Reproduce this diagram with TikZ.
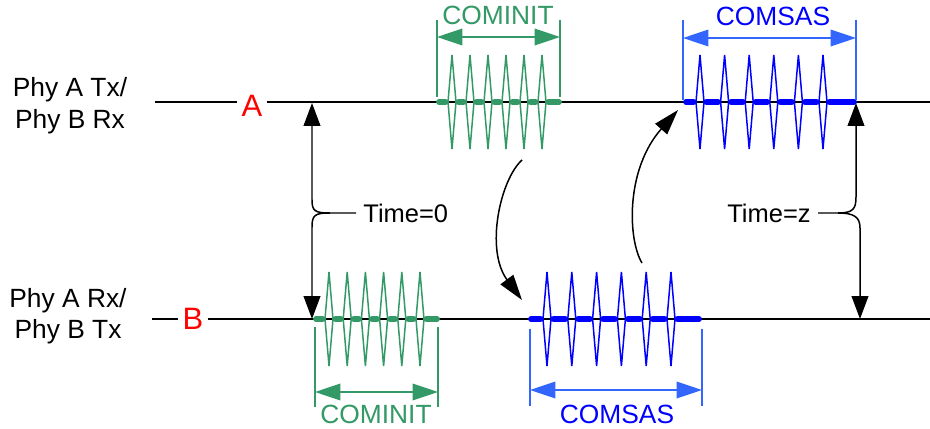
\documentclass[tikz,border=0pt]{standalone}
\usepackage{fontspec}
\setmainfont{Liberation Sans}
\usetikzlibrary{arrows.meta}
\definecolor{cominitgreen}{RGB}{51,153,102}
\definecolor{comsasblue}{RGB}{0,0,255}
\definecolor{comsaslight}{RGB}{51,102,255}
\tikzset{
	sig/.style={line width=0.8pt},
	spike/.style={line width=0.85pt},
	bar/.style={line width=3.3pt, line cap=round},
	dimtick/.style={line width=0.75pt},
	dimarrow/.style={line width=0.85pt, {Triangle[length=14.5pt,width=9.5pt]}-{Triangle[length=14.5pt,width=9.5pt]}},
	tarrow/.style={line width=0.85pt, -{Triangle[length=13pt,width=9.5pt]}},
	curvarrow/.style={line width=0.85pt, -{Triangle[length=14.5pt,width=9pt]}},
	phylabel/.style={align=center, font=\fontsize{15}{18}\selectfont},
	endlabel/.style={text=red, font=\fontsize{17.6}{20}\selectfont, inner sep=2.3pt},
	oobtext/.style={font=\fontsize{15}{17}\selectfont, inner sep=0pt},
	timelabel/.style={font=\fontsize{14.5}{17}\selectfont, inner sep=4pt},
}
% burst: [colour](start x, line y)(end x : first spike x : spike pitch)
\def\oobburst[#1](#2,#3)(#4:#5:#6){%
	\foreach \k in {0,...,5}{
		\draw[spike, #1] ({#5+\k*#6},#3-47) -- ({#5+\k*#6+4},#3) -- ({#5+\k*#6},#3+47) -- ({#5+\k*#6-4},#3) -- cycle;
	}
	\draw[bar, #1] (#2,#3) -- (#5-6.5,#3);
	\foreach \k in {0,...,4}{
		\draw[bar, #1] ({#5+\k*#6+6.5},#3) -- ({#5+(\k+1)*#6-6.5},#3);
	}
	\draw[bar, #1] ({#5+5*#6+6.5},#3) -- (#4,#3);
}

\begin{document}
\begin{tikzpicture}[x=0.02cm, y=-0.02cm]
			%%%%% START %%%%%
			\useasboundingbox (0,0) rectangle (930,429);
			
			% side labels
			\node[phylabel] (phyA) at (70,106) {Phy A Tx/\\Phy B Rx};
			\node[phylabel] (phyB) at (68,316) {Phy A Rx/\\Phy B Tx};
			
			% the two lines
			\node[endlabel] (A) at (252,106) {A};
			\node[endlabel] (B) at (193,319) {B};
			\coordinate (lineA0) at (155,102);
			\coordinate (lineA1) at (930,102);
			\coordinate (lineB0) at (152,319);
			\coordinate (lineB1) at (930,319);
			\draw[sig] (lineA0) -- (lineA0 -| A.west);
			\draw[sig] (lineA0 -| A.east) -- (lineA1);
			\draw[sig] (lineB0) -- (lineB0 -| B.west);
			\draw[sig] (lineB0 -| B.east) -- (lineB1);
			
			% bursts
			\oobburst[cominitgreen](439,102)(559:452:18);
			\oobburst[comsasblue](686,102)(854:700:24.6);
			\oobburst[cominitgreen](316,319)(437:329:18.2);
			\oobburst[comsasblue](531,319)(699:547:24.8);
			
			% COMINIT / COMSAS widths, top
			\draw[dimtick, cominitgreen] (437,20) -- (437,97);
			\draw[dimtick, cominitgreen] (560,20) -- (560,97);
			\coordinate (ciTopL) at (437,37);
			\coordinate (ciTopR) at (560,37);
			\draw[dimarrow, cominitgreen] (ciTopL) -- (ciTopR);
			\node[oobtext, text=cominitgreen] (ciTop) at (498,15) {COMINIT};
			
			\draw[dimtick, comsaslight] (683,20) -- (683,100);
			\draw[dimtick, comsaslight] (856,20) -- (856,100);
			\coordinate (csTopL) at (683,38);
			\coordinate (csTopR) at (856,38);
			\draw[dimarrow, comsaslight] (csTopL) -- (csTopR);
			\node[oobtext, text=comsasblue] (csTop) at (773,16) {COMSAS};
			
			% COMINIT / COMSAS widths, bottom
			\draw[dimtick, cominitgreen] (315,327) -- (315,407);
			\draw[dimtick, cominitgreen] (438,327) -- (438,407);
			\coordinate (ciBotL) at (315,392);
			\coordinate (ciBotR) at (438,392);
			\draw[dimarrow, cominitgreen] (ciBotL) -- (ciBotR);
			\node[oobtext, text=cominitgreen] (ciBot) at (376,414) {COMINIT};
			
			\draw[dimtick, comsaslight] (530,329) -- (530,406);
			\draw[dimtick, comsaslight] (702,329) -- (702,406);
			\coordinate (csBotL) at (530,390);
			\coordinate (csBotR) at (702,390);
			\draw[dimarrow, comsaslight] (csBotL) -- (csBotR);
			\node[oobtext, text=comsasblue] (csBot) at (617,414) {COMSAS};
			
			% Time=0
			\node[timelabel, anchor=west] (time0) at (356,213) {Time=0};
			\coordinate (t0top) at (312,103);
			\coordinate (t0bot) at (312,319);
			\draw[tarrow] (time0.west) -- (330,213) .. controls (315,213) and (312,211) .. (312,200) -- (t0top);
			\draw[tarrow] (330,213) .. controls (315,213) and (312,215) .. (312,227) -- (t0bot);
			
			% Time=z
			\node[timelabel, anchor=east] (timez) at (818,213) {Time=z};
			\coordinate (tztop) at (856,103);
			\coordinate (tzbot) at (860,319);
			\draw[tarrow] (timez.east) -- (838,213) .. controls (853,213) and (856,209) .. (856,197) -- (tztop);
			\draw[tarrow] (838,213) .. controls (854,213) and (860,217) .. (860,228) -- (tzbot);
			
			% handshake arrows
			\coordinate (ciTopEnd) at (522,160);
			\coordinate (csBotTip) at (522,300);
			\draw[curvarrow] (ciTopEnd) .. controls (500,180) and (485,250) .. (csBotTip);
			\coordinate (csBotEnd) at (642,263);
			\coordinate (csTopTip) at (678,110);
			\draw[curvarrow] (csBotEnd) .. controls (628,240) and (625,170) .. (csTopTip);
			
			%%%%% END %%%%%
\end{tikzpicture}
\end{document}
